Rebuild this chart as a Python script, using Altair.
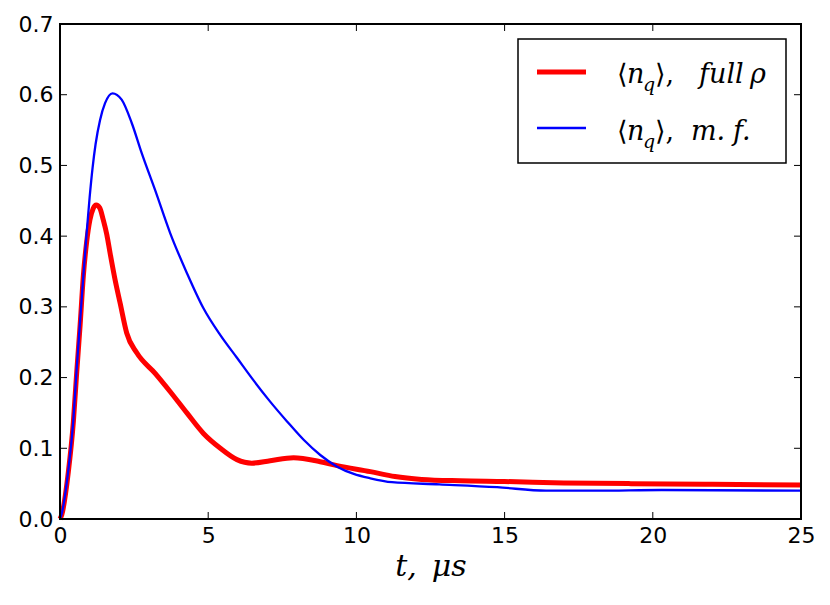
import altair as alt
import pandas as pd

# --- data ---
t_full = [0, 0.06, 0.28, 0.45, 0.56, 0.68, 0.79, 0.9, 1.01, 1.12, 1.22, 1.34, 1.46, 1.58, 1.69,
          1.86, 2.03, 2.25, 2.59, 3.21, 3.72, 4.28, 4.84, 5.41, 5.97, 6.47, 7.09, 7.88, 8.78,
          9.35, 10.47, 11.3, 12.2, 13.5, 15.0, 17.0, 19.26, 22.0, 25.0]
n_full = [0, 0.006, 0.066, 0.137, 0.205, 0.275, 0.345, 0.392, 0.423, 0.439, 0.444, 0.440, 0.423,
          0.402, 0.376, 0.338, 0.305, 0.263, 0.235, 0.206, 0.180, 0.150, 0.121, 0.100, 0.084,
          0.079, 0.0825, 0.0867, 0.081, 0.0754, 0.067, 0.060, 0.056, 0.054, 0.053, 0.051, 0.050,
          0.049, 0.048]

t_mf = [0, 0.06, 0.28, 0.45, 0.56, 0.68, 0.79, 0.9, 1.0, 1.1, 1.2, 1.35, 1.52, 1.77, 2.08, 2.42,
        2.76, 3.21, 3.72, 4.28, 4.84, 5.41, 5.97, 6.53, 7.09, 7.66, 8.22, 8.78, 9.35, 9.91, 10.47,
        11.2, 12.8, 14.75, 16.4, 18.1, 20.3, 25.0]
n_mf = [0, 0.008, 0.069, 0.140, 0.211, 0.281, 0.345, 0.405, 0.455, 0.497, 0.530, 0.564, 0.588,
        0.602, 0.593, 0.560, 0.517, 0.465, 0.404, 0.348, 0.298, 0.260, 0.228, 0.196, 0.166,
        0.138, 0.112, 0.0905, 0.074, 0.0637, 0.0575, 0.052, 0.049, 0.045, 0.040, 0.040, 0.041,
        0.040]

x_ticks = [0, 5, 10, 15, 20, 25]
y_ticks = [0.0, 0.1, 0.2, 0.3, 0.4, 0.5, 0.6, 0.7]

W, H = 741, 495
SERIF = "DejaVu Serif"

df_full = pd.DataFrame({"t": t_full, "n": n_full})
df_mf = pd.DataFrame({"t": t_mf, "n": n_mf})
df_xt = pd.DataFrame({"t": x_ticks})
df_yt = pd.DataFrame({"v": y_ticks})
one = pd.DataFrame({"a": [0]})

xscale = alt.Scale(domain=[0, 25], nice=False, zero=False)
yscale = alt.Scale(domain=[0, 0.7], nice=False, zero=False)

xaxis = alt.Axis(values=x_ticks, format="d", title="t,\u2002μs", grid=False, ticks=False, domain=False,
                 labelFont="DejaVu Sans", labelFontSize=22, labelColor="black", labelPadding=6,
                 titleFont=SERIF, titleFontStyle="italic", titleFontWeight="normal",
                 titleFontSize=30, titleColor="black", titlePadding=5, labelFlush=False)
yaxis = alt.Axis(values=y_ticks, format=".1f", title=None, grid=False, ticks=False, domain=False,
                 labelFont="DejaVu Sans", labelFontSize=22, labelColor="black", labelPadding=7)

red = alt.Chart(df_full).mark_line(color="#ff0000", strokeWidth=5, interpolate="monotone").encode(
    x=alt.X("t:Q", scale=xscale, axis=xaxis),
    y=alt.Y("n:Q", scale=yscale, axis=yaxis),
)
blue = alt.Chart(df_mf).mark_line(color="#0000ff", strokeWidth=2.3, interpolate="monotone").encode(
    x=alt.X("t:Q", scale=xscale),
    y=alt.Y("n:Q", scale=yscale),
)

tk = dict(color="black", strokeWidth=1)
xt_bot = alt.Chart(df_xt).mark_rule(**tk).encode(x=alt.X("t:Q", scale=xscale), y=alt.value(H), y2=alt.value(H - 7))
xt_top = alt.Chart(df_xt).mark_rule(**tk).encode(x=alt.X("t:Q", scale=xscale), y=alt.value(0), y2=alt.value(7))
yt_left = alt.Chart(df_yt).mark_rule(**tk).encode(y=alt.Y("v:Q", scale=yscale), x=alt.value(0), x2=alt.value(7))
yt_right = alt.Chart(df_yt).mark_rule(**tk).encode(y=alt.Y("v:Q", scale=yscale), x=alt.value(W), x2=alt.value(W - 7))

frame = alt.Chart(one).mark_rect(fill=None, fillOpacity=0, stroke="black", strokeWidth=2).encode(
    x=alt.value(0), x2=alt.value(W), y=alt.value(0), y2=alt.value(H))

# --- legend (drawn by hand so the subscript can be shown) ---
leg_box = alt.Chart(one).mark_rect(fill="white", stroke="black", strokeWidth=1.5).encode(
    x=alt.value(458), x2=alt.value(726), y=alt.value(15), y2=alt.value(139))
leg_red = alt.Chart(one).mark_rule(color="#ff0000", strokeWidth=5).encode(
    x=alt.value(477), x2=alt.value(526), y=alt.value(48))
leg_blue = alt.Chart(one).mark_rule(color="#0000ff", strokeWidth=2.3).encode(
    x=alt.value(477), x2=alt.value(526), y=alt.value(104))

tfont = dict(font=SERIF, color="black", align="left", baseline="alphabetic")
def piece(txt, x, y, size=27, italic=True):
    kw = dict(tfont)
    if italic:
        kw["fontStyle"] = "italic"
    return alt.Chart(one).mark_text(text=txt, fontSize=size, **kw).encode(x=alt.value(x), y=alt.value(y))

def row(y0, words):
    out = [piece("⟨", 557, y0, italic=False), piece("n", 567, y0), piece("q", 583, y0 + 8, size=19),
           piece("⟩,", 595, y0, italic=False)]
    for txt, x in words:
        out.append(piece(txt, x, y0))
    return out

leg_texts = row(59, [("full", 639), ("ρ", 690)]) + row(116, [("m.", 631), ("f.", 673)])

chart = alt.layer(
    red, blue, xt_bot, xt_top, yt_left, yt_right, frame, leg_box, leg_red, leg_blue, *leg_texts
).properties(
    width=W, height=H, autosize="none",
    padding={"left": 52, "top": 16, "right": 21, "bottom": 72},
).configure_view(stroke=None).configure(background="white")

chart.save("out.html", embed_options={"renderer": "svg", "actions": False})
